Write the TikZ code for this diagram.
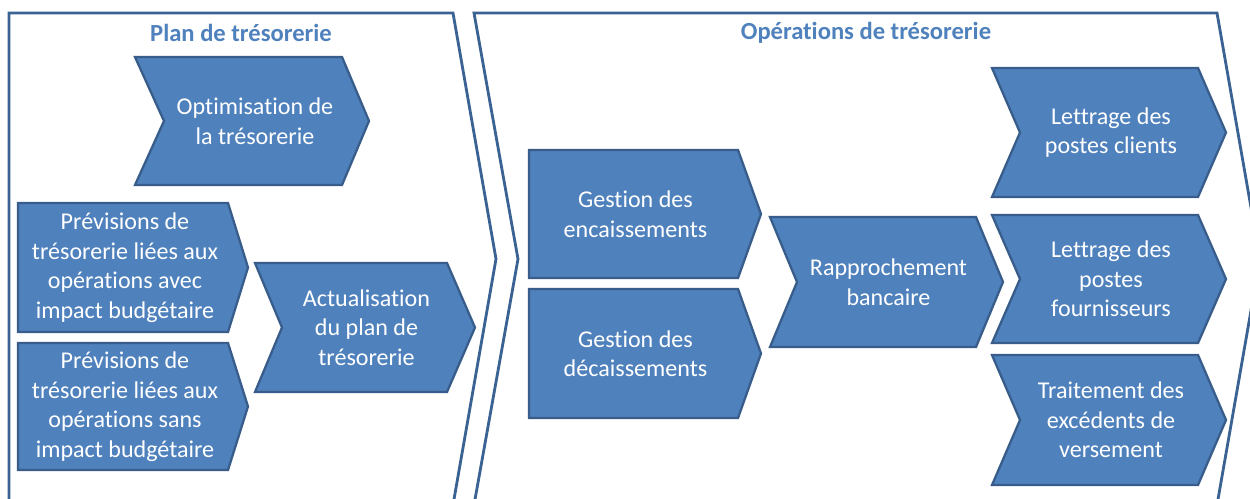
\documentclass[tikz,border=0pt]{standalone}
\usepackage{fontspec}
\setmainfont[Ligatures=NoCommon]{Carlito}
\usepackage{tikz}
\usepackage{xcolor}
\usetikzlibrary{positioning}
\definecolor{tresoFill}{RGB}{79,129,189}
\definecolor{tresoEdge}{RGB}{56,93,138}
\definecolor{tresoFrame}{RGB}{58,98,146}
\definecolor{tresoTitle}{RGB}{79,129,189}

% chevron: name, x left, y top, x shoulder, x tip, y bottom, notch depth, text
\newcommand\chevshape[8]{%
  \draw[chevbox] (#2,#3) -- (#4,#3) -- (#5,{(#3+#6)/2}) -- (#4,#6) -- (#2,#6)
    -- ({#2+#7},{(#3+#6)/2}) -- cycle;
  \node[chevtext] (#1) at ({(#2+#7+#4)/2+2},{(#3+#6)/2}) {#8};}

\begin{document}
\begin{tikzpicture}[
    x=0.02cm, y=-0.02cm,
    chevbox/.style={draw=tresoEdge, fill=tresoFill, line width=1.3pt, line join=miter},
    chevtext/.style={align=center, text=white, font=\fontsize{13.7}{16.8}\selectfont, inner sep=0pt},
    frame/.style={draw=tresoFrame, line width=1.6pt, line join=miter},
    title/.style={text=tresoTitle, font=\fontsize{14}{16}\selectfont\bfseries, inner sep=0pt}
  ]
    \clip (0,0) rectangle (1250,498);
    \fill[white] (0,0) rectangle (1250,498);
    % the two phases
    \draw[frame] (9,13) -- (453,13) -- (496,259) -- (453,505) -- (9,505) -- cycle;
    \draw[frame] (474,13) -- (1217,13) -- (1260,259) -- (1217,505) -- (474,505) -- (518,259) -- cycle;
    \node[title] (plan) at (241,33) {Plan de trésorerie};
    \node[title] (ops) at (866,33) {Opérations de trésorerie};
    % plan de tresorerie
    \chevshape{optim}{135}{57}{342}{369}{185}{29}{Optimisation de\\la trésorerie}
    \chevshape{prevavec}{18}{203}{228}{248}{332}{0}{Prévisions de\\trésorerie liées aux\\opérations avec\\impact budgétaire}
    \chevshape{prevsans}{18}{343}{228}{248}{470}{0}{Prévisions de\\trésorerie liées aux\\opérations sans\\impact budgétaire}
    \chevshape{actu}{255}{263}{447}{475}{392}{27}{Actualisation\\du plan de\\trésorerie}
    % operations de tresorerie
    \chevshape{encais}{529}{150}{738}{761}{278}{0}{Gestion des\\encaissements}
    \chevshape{decais}{529}{289}{738}{761}{418}{0}{Gestion des\\décaissements}
    \chevshape{rappro}{770}{217}{976}{1003}{347}{27}{Rapprochement\\bancaire}
    \chevshape{lettcli}{992}{68}{1198}{1226}{197}{28}{Lettrage des\\postes clients}
    \chevshape{lettfou}{992}{215}{1198}{1226}{343}{28}{Lettrage des\\postes\\fournisseurs}
    \chevshape{excedent}{992}{355}{1198}{1226}{485}{28}{Traitement des\\excédents de\\versement}
  \end{tikzpicture}
\end{document}
